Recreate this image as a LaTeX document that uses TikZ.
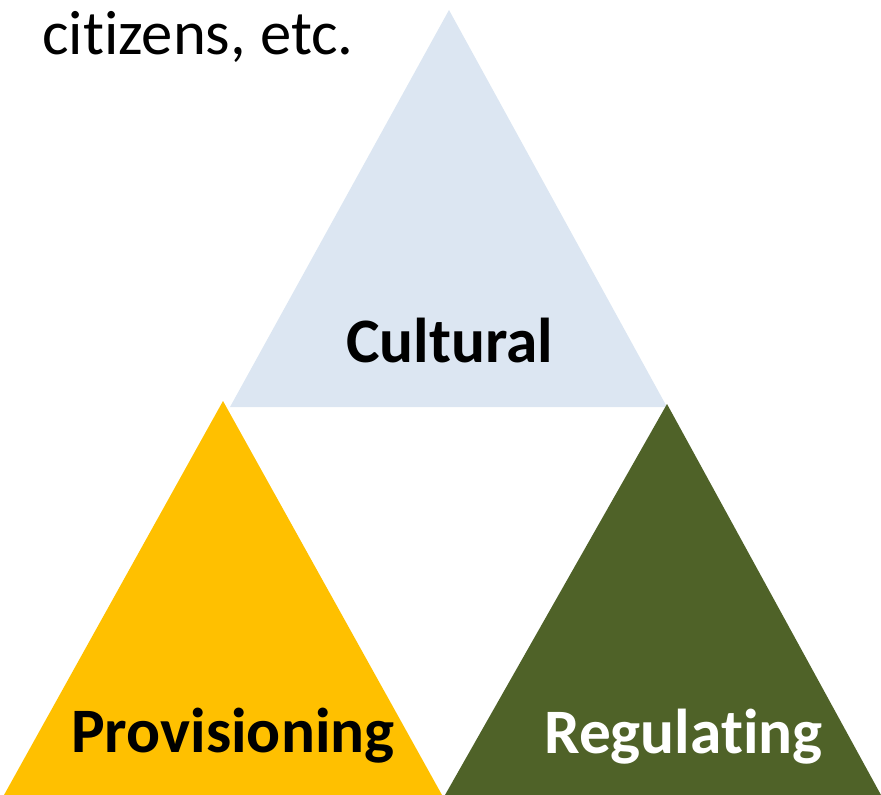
\documentclass[tikz,border=0pt]{standalone}
\usepackage{fontspec}
\setmainfont[RawFeature={-liga}]{Carlito}
\definecolor{culturalblue}{HTML}{DCE6F2}
\definecolor{provyellow}{HTML}{FFC000}
\definecolor{reggreen}{HTML}{4F6228}
\begin{document}
\begin{tikzpicture}[x=0.75pt,y=-0.75pt,
  lbl/.style={inner sep=0pt,anchor=base west,font=\fontsize{47}{56}\selectfont},
  blbl/.style={lbl,font=\fontsize{47.5}{56}\selectfont\bfseries}]
\useasboundingbox (0,0) rectangle (881,795);
% triangles
\fill[culturalblue] (449,10) -- (230,407) -- (667,407) -- cycle;
\fill[provyellow] (223,401) -- (4,795) -- (442,795) -- cycle;
\fill[reggreen] (667,404) -- (445,795) -- (881,795) -- cycle;
% texts
\node[lbl] (cit) at (42,55) {citizens, etc.};
\node[blbl] (cul) at (346,362) {Cultural};
\node[blbl] (prov) at (71,752) {Provisioning};
\node[blbl,text=white] (reg) at (544,753) {Regulating};
\end{tikzpicture}
\end{document}
